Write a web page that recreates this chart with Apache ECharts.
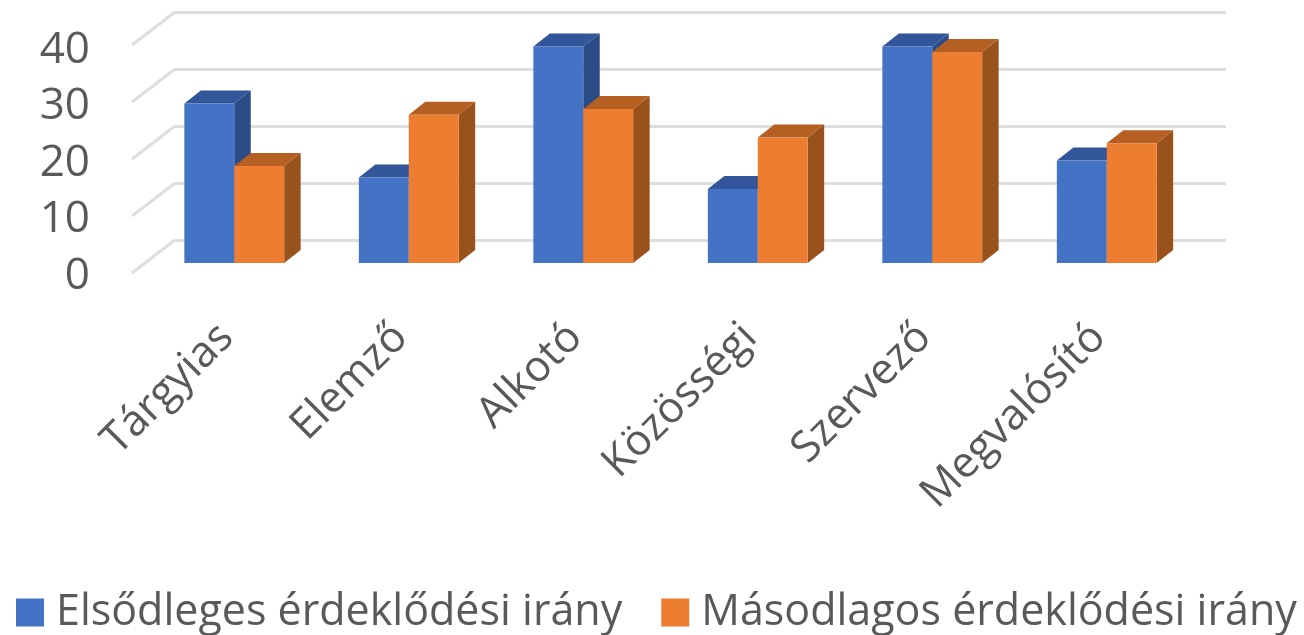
<!DOCTYPE html>
<html>
<head>
<meta charset="utf-8">
<style>html,body{margin:0;padding:0;background:#fff}#c{width:1304px;height:635px;filter:blur(0.6px)}</style>
<script src="https://cdn.jsdelivr.net/npm/echarts@6/dist/echarts.min.js"></script>
</head>
<body>
<div id="c"></div>
<script>
const categories = ['Tárgyias','Elemző','Alkotó','Közösségi','Szervező','Megvalósító'];
const seriesNames = ['Elsődleges érdeklődési irány','Másodlagos érdeklődési irány'];
const primaryValues = [28,15,38,13,38,18];
const secondaryValues = [17,26,27,22,37,21];
const tickValues = [0,10,20,30,40];

const FONT = '"Open Sans", sans-serif';
const TEXT = '#595959';
const DX = 16.5, DY = -13;          // bar depth on screen
const BAR_FRACTION = 0.286;         // bar width as a share of the category band

function barRenderer(slot, front, top, side) {
  return function (params, api) {
    const cat = api.value(0), val = api.value(1);
    const p0 = api.coord([cat, 0]);
    const p1 = api.coord([cat, val]);
    const w = api.size([1, 0])[0] * BAR_FRACTION;
    const x0 = p0[0] + slot * w, x1 = x0 + w, yb = p0[1], yt = p1[1];
    return {
      type: 'group',
      children: [
        { type: 'polygon', shape: { points: [[x1,yb],[x1+DX,yb+DY],[x1+DX,yt+DY],[x1,yt]] }, style: { fill: side } },
        { type: 'polygon', shape: { points: [[x0,yt],[x0+DX,yt+DY],[x1+DX,yt+DY],[x1,yt]] }, style: { fill: top } },
        { type: 'rect', shape: { x: x0, y: yt, width: w, height: yb - yt }, style: { fill: front } }
      ]
    };
  };
}

const chart = echarts.init(document.getElementById('c'), null, { renderer: 'canvas' });
chart.setOption({
  animation: false,
  backgroundColor: '#fff',
  grid: [
    { left: 175, top: 12, width: 1051, height: 228 },   // back wall
    { left: 147, top: 35, width: 1047, height: 228 },   // bar plane
    { left: 132, top: 50, width: 1000, height: 226.5 }  // value labels
  ],
  xAxis: [
    { gridIndex: 0, type: 'value', min: 0, max: 1, show: false },
    { gridIndex: 1, type: 'category', data: categories,
      axisLine: { show: false }, axisTick: { show: false },
      axisLabel: { interval: 0, rotate: 45, margin: 60, padding: [0, 11, 0, 0],
                   color: TEXT, fontFamily: FONT, fontSize: 43 } },
    { gridIndex: 2, type: 'value', min: 0, max: 1, show: false }
  ],
  yAxis: [
    { gridIndex: 0, type: 'value', min: 0, max: 40, interval: 10,
      axisLine: { show: false }, axisTick: { show: false }, axisLabel: { show: false },
      splitLine: { lineStyle: { color: '#dedede', width: 3 } } },
    { gridIndex: 1, type: 'value', min: 0, max: 40, interval: 10, show: false },
    { gridIndex: 2, type: 'value', min: 0, max: 40, interval: 10,
      axisLine: { show: false }, axisTick: { show: false }, splitLine: { show: false },
      axisLabel: { margin: 42, color: TEXT, fontFamily: FONT, fontSize: 44 } }
  ],
  legend: {
    left: 16, top: 591, padding: 0, itemWidth: 28, itemHeight: 28, itemGap: 39,
    data: seriesNames, icon: 'rect',
    textStyle: { color: TEXT, fontFamily: FONT, fontSize: 43, padding: [0,0,0,7] }
  },
  series: [
    { type: 'custom', xAxisIndex: 0, yAxisIndex: 0, silent: true, z: 1,
      data: tickValues.map(v => [0, v]), encode: { x: 0, y: 1 },
      renderItem(params, api) {
        const p = api.coord([0, api.value(1)]);
        return { type: 'line', shape: { x1: p[0], y1: p[1], x2: p[0] - 43, y2: p[1] + 33 },
                 style: { stroke: '#dedede', lineWidth: 3 } };
      } },
    { name: seriesNames[0], type: 'custom', xAxisIndex: 1, yAxisIndex: 1, z: 3,
      itemStyle: { color: '#4472C4' }, encode: { x: 0, y: 1 },
      data: primaryValues.map((v, i) => [i, v]),
      renderItem: barRenderer(-1, '#4472C4', '#325699', '#2B4C86') },
    { name: seriesNames[1], type: 'custom', xAxisIndex: 1, yAxisIndex: 1, z: 4,
      itemStyle: { color: '#ED7D31' }, encode: { x: 0, y: 1 },
      data: secondaryValues.map((v, i) => [i, v]),
      renderItem: barRenderer(0, '#ED7D31', '#B65F22', '#9A521C') }
  ]
});
</script>
</body>
</html>
